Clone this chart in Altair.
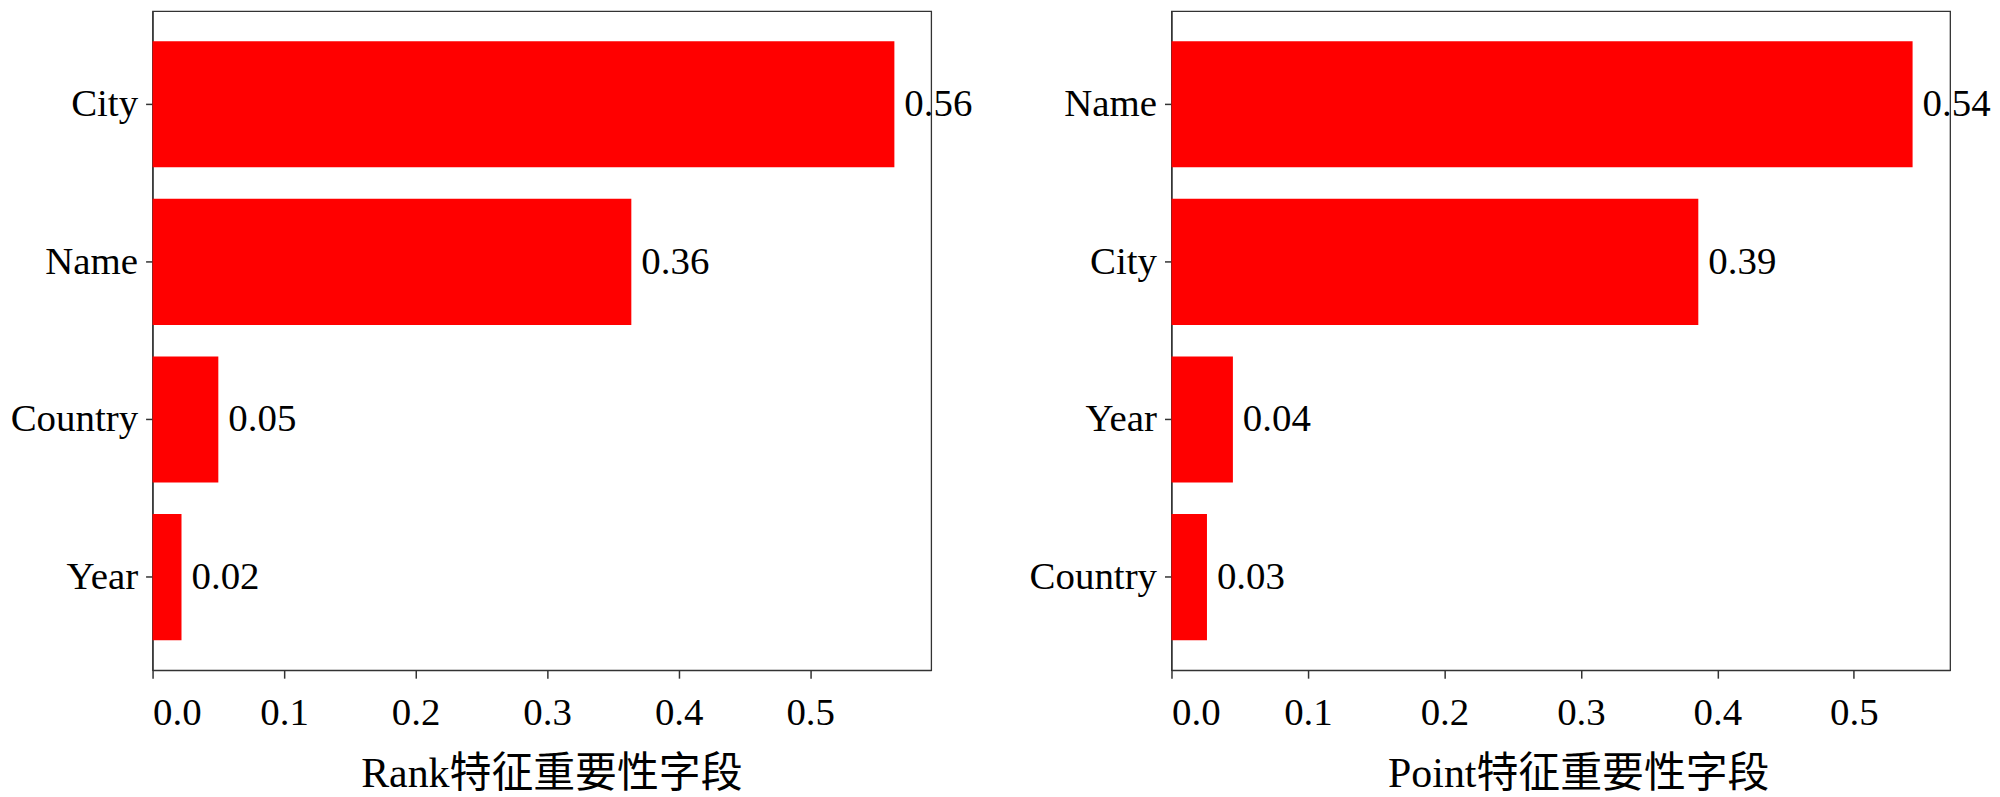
import altair as alt
import pandas as pd

left_features = ["City", "Name", "Country", "Year"]
left_values = [0.564, 0.364, 0.050, 0.022]
left_title = "Rank特征重要性字段"
left_xmax = 0.592

right_features = ["Name", "City", "Year", "Country"]
right_values = [0.543, 0.386, 0.045, 0.026]
right_title = "Point特征重要性字段"
right_xmax = 0.5705

tick_values = [0.0, 0.1, 0.2, 0.3, 0.4, 0.5]

FONT = "Liberation Serif, Times New Roman, Noto Sans CJK SC"


def panel(features, values, title, xmax, title_x):
    df = pd.DataFrame({"feature": features, "value": values})
    df["label"] = [f"{v:.2f}" for v in values]
    x = alt.X(
        "value:Q",
        scale=alt.Scale(domain=[0, xmax], nice=False, zero=True),
        axis=alt.Axis(
            values=tick_values,
            format=".1f",
            title=title,
            grid=False,
            tickSize=8,
            labelPadding=15,
            titlePadding=22,
            titleX=title_x,
        ),
    )
    y = alt.Y(
        "feature:N",
        sort=features,
        scale=alt.Scale(paddingInner=0.2, paddingOuter=0.19),
        axis=alt.Axis(title=None, tickSize=7, labelPadding=8, grid=False),
    )
    bars = alt.Chart(df).mark_bar(color="#ff0000").encode(x=x, y=y)
    text = alt.Chart(df).mark_text(
        align="left", baseline="middle", dx=10, fontSize=39, font=FONT, color="black"
    ).encode(x=alt.X("value:Q"), y=alt.Y("feature:N", sort=features), text="label:N")
    return (bars + text).properties(width=781, height=661)


chart = alt.hconcat(
    panel(left_features, left_values, left_title, left_xmax, 400),
    panel(right_features, right_values, right_title, right_xmax, 408),
    spacing=241,
    bounds="flush",
).configure(
    padding={"left": 1, "top": 1, "right": 0, "bottom": 0},
    font=FONT,
).configure_view(
    stroke="#333333", strokeWidth=1.3
).configure_axis(
    labelFont=FONT,
    titleFont=FONT,
    labelFontSize=39,
    titleFontSize=42,
    titleFontWeight="normal",
    labelColor="black",
    titleColor="black",
    domainColor="#333333",
    domainWidth=1.3,
    tickColor="#333333",
    tickWidth=1.5,
)

chart.save("out.html", embed_options={"renderer": "svg", "actions": False})
